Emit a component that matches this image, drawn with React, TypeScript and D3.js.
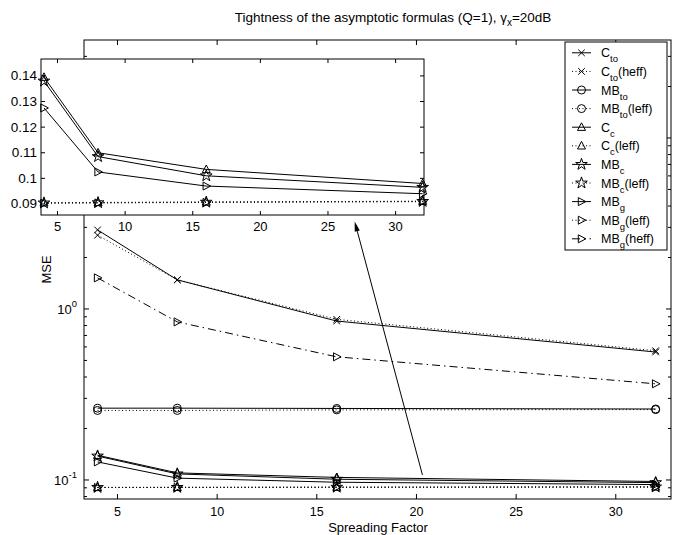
import React from "react"
import * as d3 from "d3"

// ── Data ───────────────────────────────────────────────────────────────────────

const spreadingFactor = [4, 8, 16, 32]

const cTo = [2.9, 1.48, 0.85, 0.56]
const cToHeff = [2.7, 1.48, 0.87, 0.57]
const mbTo = [0.263, 0.263, 0.262, 0.26]
const mbToLeff = [0.255, 0.255, 0.257, 0.258]
const cC = [0.1395, 0.11, 0.1035, 0.098]
const cCLeff = [0.0905, 0.0906, 0.0908, 0.0911]
const mbC = [0.138, 0.1085, 0.101, 0.0965]
const mbCLeff = [0.0904, 0.0905, 0.0907, 0.091]
const mbG = [0.1275, 0.1025, 0.097, 0.094]
const mbGLeff = [0.0903, 0.0904, 0.0906, 0.0909]
const mbGHeff = [1.52, 0.84, 0.525, 0.365]

const xTicks = [5, 10, 15, 20, 25, 30]
const mainMajorTicks = [0.1, 1, 10]
const mainMajorLabels = ["-1", "0", "1"]
const insetYTicks = [0.09, 0.1, 0.11, 0.12, 0.13, 0.14]
const insetYLabels = ["0.09", "0.1", "0.11", "0.12", "0.13", "0.14"]

// arrow annotation, in main-axes data units: [x, y]
const arrowFrom = [20.3, 0.107]
const arrowTo = [16.9, 3.25]

type Series = {
  name: string
  sub: string
  suffix: string
  values: number[]
  dash: string | undefined
  marker: string
}

const DOT = "1 2.5"
const DASHDOT = "8 4 1.5 4"

const SERIES: Series[] = [
  { name: "C", sub: "to", suffix: "", values: cTo, dash: undefined, marker: "times" },
  { name: "C", sub: "to", suffix: "(heff)", values: cToHeff, dash: DOT, marker: "times" },
  { name: "MB", sub: "to", suffix: "", values: mbTo, dash: undefined, marker: "circle" },
  { name: "MB", sub: "to", suffix: "(leff)", values: mbToLeff, dash: DOT, marker: "circle" },
  { name: "C", sub: "c", suffix: "", values: cC, dash: undefined, marker: "triUp" },
  { name: "C", sub: "c", suffix: "(leff)", values: cCLeff, dash: DOT, marker: "triUp" },
  { name: "MB", sub: "c", suffix: "", values: mbC, dash: undefined, marker: "star" },
  { name: "MB", sub: "c", suffix: "(leff)", values: mbCLeff, dash: DOT, marker: "star" },
  { name: "MB", sub: "g", suffix: "", values: mbG, dash: undefined, marker: "triRight" },
  { name: "MB", sub: "g", suffix: "(leff)", values: mbGLeff, dash: DOT, marker: "triRight" },
  { name: "MB", sub: "g", suffix: "(heff)", values: mbGHeff, dash: DASHDOT, marker: "triRight" },
]

// ── Layout ─────────────────────────────────────────────────────────────────────

const W = 673
const H = 535
const FONT = "'Liberation Sans', Arial, Helvetica, sans-serif"

const main = { left: 84, right: 671, top: 40, bottom: 499 }
const inset = { left: 41, right: 424, top: 59, bottom: 215 }
const legend = { left: 565, right: 667, top: 42, bottom: 250, row0: 57.3, step: 18.6 }

const xMain = d3.scaleLinear().domain([3.32, 32.77]).range([main.left, main.right])
const yMain = d3.scaleLog().domain([0.0774, 37.4]).range([main.bottom, main.top])
const xInset = d3.scaleLinear().domain([3.78, 32.1]).range([inset.left, inset.right])
const yInset = d3.scaleLinear().domain([0.0857, 0.1466]).range([inset.bottom, inset.top])

// log minor ticks 2..9 for each decade inside the domain
const mainMinorTicks = d3
  .range(-2, 2)
  .flatMap(e => d3.range(2, 10).map(m => m * Math.pow(10, e)))
  .filter(v => v > yMain.domain()[0] && v < yMain.domain()[1])

// ── Markers ────────────────────────────────────────────────────────────────────

const starPath = d3.symbol(d3.symbolStar, 42)() || ""
const circlePath = d3.symbol(d3.symbolCircle, Math.PI * 16)() || ""

function markerPath(kind: string): string {
  const s = 4
  switch (kind) {
    case "times":
      return `M-3.3,-3.3L3.3,3.3M-3.3,3.3L3.3,-3.3`
    case "circle":
      return circlePath
    case "triUp":
      return `M0,${-s * 1.1}L${s},${s * 0.8}L${-s},${s * 0.8}Z`
    case "triRight":
      return `M${s * 1.1},0L${-s * 0.8},${s}L${-s * 0.8},${-s}Z`
    case "star":
      return starPath
    default:
      return ""
  }
}

const Marker = ({ kind, x, y }: { kind: string; x: number; y: number }) => (
  <path
    d={markerPath(kind)}
    transform={`translate(${x},${y})`}
    fill="none"
    stroke="#000"
    strokeWidth={1}
  />
)

// ── Lines + markers for one set of axes ────────────────────────────────────────

function Lines({
  xs,
  ys,
  clipId,
  inRange,
}: {
  xs: (v: number) => number
  ys: (v: number) => number
  clipId: string
  inRange: (v: number) => boolean
}) {
  const line = d3
    .line<number>()
    .x((_, j) => xs(spreadingFactor[j]))
    .y(d => ys(d))
  return (
    <g>
      <g clipPath={`url(#${clipId})`}>
        {SERIES.map((s, i) => (
          <path
            key={i}
            d={line(s.values) || ""}
            fill="none"
            stroke="#000"
            strokeWidth={1}
            strokeDasharray={s.dash}
          />
        ))}
      </g>
      {SERIES.map((s, i) =>
        s.values.map((v, j) =>
          inRange(v) ? (
            <Marker key={`${i}-${j}`} kind={s.marker} x={xs(spreadingFactor[j])} y={ys(v)} />
          ) : null,
        ),
      )}
    </g>
  )
}

// ── Main component ─────────────────────────────────────────────────────────────

export default function App() {
  const tick = 5

  // arrow geometry
  const ax0 = xMain(arrowFrom[0])
  const ay0 = yMain(arrowFrom[1])
  const ax1 = xMain(arrowTo[0])
  const ay1 = yMain(arrowTo[1])
  const ang = Math.atan2(ay1 - ay0, ax1 - ax0)
  const headLen = 10
  const headHalf = 2.6
  const bx = ax1 - headLen * Math.cos(ang)
  const by = ay1 - headLen * Math.sin(ang)
  const head = [
    [ax1, ay1],
    [bx + headHalf * Math.sin(ang), by - headHalf * Math.cos(ang)],
    [bx - headHalf * Math.sin(ang), by + headHalf * Math.cos(ang)],
  ]

  const textStyle = { fontFamily: FONT, fontSize: 13, fill: "#000" }

  return (
    <div style={{ position: "absolute", left: 0, top: 0, background: "#fff" }}>
      <svg width={W} height={H} style={{ display: "block" }}>
        <defs>
          <clipPath id="main-clip">
            <rect x={main.left} y={main.top} width={main.right - main.left} height={main.bottom - main.top} />
          </clipPath>
          <clipPath id="inset-clip">
            <rect x={inset.left} y={inset.top} width={inset.right - inset.left} height={inset.bottom - inset.top} />
          </clipPath>
        </defs>
        <rect width={W} height={H} fill="#fff" />

        {/* Title */}
        <text x={393} y={22} textAnchor="middle" {...textStyle} fontSize={13.5}>
          Tightness of the asymptotic formulas (Q=1), γ
          <tspan dy={4} fontSize={10}>x</tspan>
          <tspan dy={-4}>=20dB</tspan>
        </text>

        {/* ── Main axes ── */}
        <rect
          x={main.left}
          y={main.top}
          width={main.right - main.left}
          height={main.bottom - main.top}
          fill="#fff"
          stroke="#000"
          strokeWidth={1}
        />
        {xTicks.map(t => (
          <g key={`mx${t}`}>
            <line x1={xMain(t)} x2={xMain(t)} y1={main.bottom} y2={main.bottom - tick} stroke="#000" />
            <line x1={xMain(t)} x2={xMain(t)} y1={main.top} y2={main.top + tick} stroke="#000" />
            <text x={xMain(t)} y={516} textAnchor="middle" {...textStyle} fontSize={12.5}>
              {t}
            </text>
          </g>
        ))}
        {mainMinorTicks.map(t => (
          <g key={`mm${t}`}>
            <line x1={main.left} x2={main.left + 3} y1={yMain(t)} y2={yMain(t)} stroke="#000" />
            <line x1={main.right} x2={main.right - 3} y1={yMain(t)} y2={yMain(t)} stroke="#000" />
          </g>
        ))}
        {mainMajorTicks.map((t, i) => (
          <g key={`mM${t}`}>
            <line x1={main.left} x2={main.left + tick} y1={yMain(t)} y2={yMain(t)} stroke="#000" />
            <line x1={main.right} x2={main.right - tick} y1={yMain(t)} y2={yMain(t)} stroke="#000" />
            <text x={77} y={yMain(t) + 5} textAnchor="end" {...textStyle}>
              10
              <tspan dy={-7} fontSize={9.5}>
                {mainMajorLabels[i]}
              </tspan>
            </text>
          </g>
        ))}
        <text
          transform={`translate(51,${(main.top + main.bottom) / 2}) rotate(-90)`}
          textAnchor="middle"
          {...textStyle}
        >
          MSE
        </text>
        <text x={378} y={532} textAnchor="middle" {...textStyle}>
          Spreading Factor
        </text>

        <Lines
          xs={xMain}
          ys={yMain}
          clipId="main-clip"
          inRange={v => v >= yMain.domain()[0] && v <= yMain.domain()[1]}
        />

        {/* Arrow */}
        <line x1={ax0} y1={ay0} x2={bx} y2={by} stroke="#000" strokeWidth={1} />
        <polygon points={head.map(p => p.join(",")).join(" ")} fill="#000" />

        {/* ── Legend ── */}
        <rect
          x={legend.left}
          y={legend.top}
          width={legend.right - legend.left}
          height={legend.bottom - legend.top}
          fill="#fff"
          stroke="#000"
          strokeWidth={1}
        />
        {SERIES.map((s, i) => {
          const by0 = legend.row0 + i * legend.step
          const ly = by0 - 4.5
          return (
            <g key={`lg${i}`}>
              <line x1={572} x2={591} y1={ly} y2={ly} stroke="#000" strokeDasharray={s.dash} />
              <Marker kind={s.marker} x={581.5} y={ly} />
              <text x={601} y={by0} {...textStyle} fontSize={12.5}>
                {s.name}
                <tspan dy={5} fontSize={9.5}>
                  {s.sub}
                </tspan>
                {s.suffix ? <tspan dy={-5}>{s.suffix}</tspan> : null}
              </text>
            </g>
          )
        })}

        {/* ── Inset axes ── */}
        <rect
          x={inset.left}
          y={inset.top}
          width={inset.right - inset.left}
          height={inset.bottom - inset.top}
          fill="#fff"
          stroke="#000"
          strokeWidth={1}
        />
        {xTicks.map(t => (
          <g key={`ix${t}`}>
            <line x1={xInset(t)} x2={xInset(t)} y1={inset.bottom} y2={inset.bottom - 4} stroke="#000" />
            <line x1={xInset(t)} x2={xInset(t)} y1={inset.top} y2={inset.top + 4} stroke="#000" />
            <text x={xInset(t)} y={231} textAnchor="middle" {...textStyle}>
              {t}
            </text>
          </g>
        ))}
        {insetYTicks.map((t, i) => (
          <g key={`iy${t}`}>
            <line x1={inset.left} x2={inset.left + 4} y1={yInset(t)} y2={yInset(t)} stroke="#000" />
            <line x1={inset.right} x2={inset.right - 4} y1={yInset(t)} y2={yInset(t)} stroke="#000" />
            <text x={37} y={yInset(t) + 4.5} textAnchor="end" {...textStyle} fontSize={13.5}>
              {insetYLabels[i]}
            </text>
          </g>
        ))}
        <Lines
          xs={xInset}
          ys={yInset}
          clipId="inset-clip"
          inRange={v => v >= yInset.domain()[0] && v <= yInset.domain()[1]}
        />
      </svg>
    </div>
  )
}
